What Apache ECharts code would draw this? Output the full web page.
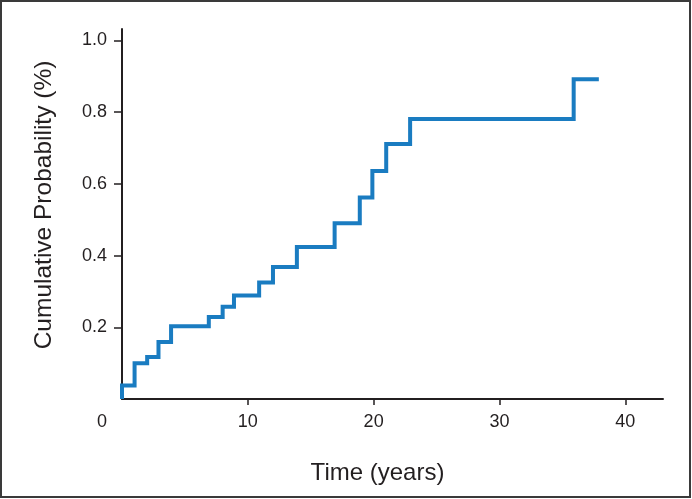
<!DOCTYPE html>
<html>
<head>
<meta charset="utf-8">
<script src="https://cdn.jsdelivr.net/npm/echarts@6/dist/echarts.min.js"></script>
<style>
html,body{margin:0;padding:0;background:#fff;}
#chart{width:692px;height:499px;}
</style>
</head>
<body>
<div id="chart"></div>
<script>
// Step points: time (years) where the cumulative probability jumps, and the new value
var times = [0, 0, 1.0, 2.0, 2.9, 3.9, 6.9, 8.0, 8.9, 10.9, 12.0, 13.9, 16.9, 18.9, 19.9, 21.0, 22.9, 35.9, 37.9];
var probs = [0, 0.038, 0.100, 0.117, 0.159, 0.203, 0.229, 0.257, 0.289, 0.325, 0.368, 0.424, 0.490, 0.562, 0.636, 0.711, 0.781, 0.892, 0.892];
var xTickLabels = [0, 10, 20, 30, 40];
var yTickLabels = [0.2, 0.4, 0.6, 0.8, 1.0];

var points = times.map(function (t, i) { return [t, probs[i]]; });

var chart = echarts.init(document.getElementById('chart'), null, {renderer: 'canvas'});
var font = '"Liberation Sans", Arial, sans-serif';
var axisColor = '#231f20';
chart.setOption({
  animation: false,
  backgroundColor: '#ffffff',
  graphic: [{
    type: 'rect',
    shape: {x: 1, y: 1, width: 689, height: 496},
    style: {fill: 'none', stroke: '#3a3a3a', lineWidth: 2},
    silent: true
  }],
  grid: {left: 122, right: 29, top: 29, bottom: 100, containLabel: false},
  xAxis: {
    type: 'value',
    min: 0,
    max: 43,
    interval: 10,
    name: 'Time (years)',
    nameLocation: 'middle',
    nameGap: 62,
    nameTextStyle: {fontFamily: font, fontSize: 24, color: '#231f20', padding: [0, 30, 0, 0]},
    axisLine: {show: true, lineStyle: {color: axisColor, width: 2}},
    axisTick: {show: true, length: 6, lineStyle: {color: axisColor, width: 1.5}, customValues: [10, 20, 30, 40]},
    splitLine: {show: false},
    axisLabel: {
      customValues: xTickLabels,
      margin: 14,
      fontFamily: font,
      fontSize: 18,
      color: '#231f20',
      formatter: function (v) { return v === 0 ? '{o|0}' : String(v); },
      rich: {o: {fontFamily: font, fontSize: 18, color: '#231f20', padding: [0, 40, 0, 0]}}
    }
  },
  yAxis: {
    type: 'value',
    min: 0,
    max: 1.032,
    name: 'Cumulative Probability (%)',
    nameLocation: 'middle',
    nameGap: 65,
    nameTextStyle: {fontFamily: font, fontSize: 24.5, color: '#231f20', padding: [0, 0, 0, 18]},
    axisLine: {show: true, lineStyle: {color: axisColor, width: 2}},
    axisTick: {show: true, length: 8, lineStyle: {color: axisColor, width: 1.5}, customValues: yTickLabels},
    splitLine: {show: false},
    axisLabel: {
      customValues: yTickLabels,
      margin: 15,
      fontFamily: font,
      fontSize: 18,
      color: '#231f20',
      formatter: function (v) { return v.toFixed(1); }
    }
  },
  series: [{
    type: 'line',
    step: 'end',
    data: points,
    symbol: 'none',
    lineStyle: {color: '#1a7cc1', width: 4, join: 'miter'},
    z: 1
  }]
});
</script>
</body>
</html>
